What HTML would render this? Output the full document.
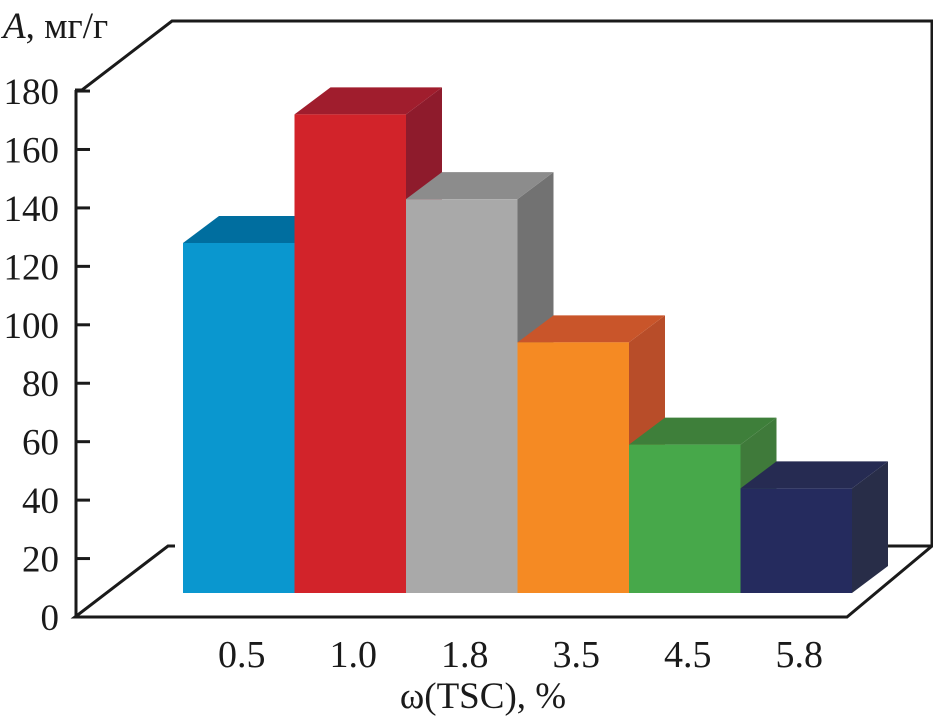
<!DOCTYPE html>
<html><head><meta charset="utf-8"><style>
html,body{margin:0;padding:0;background:#fff;}
svg{display:block;font-family:"Liberation Serif",serif;}
</style></head><body>
<svg id="chart" width="933" height="726" viewBox="0 0 933 726">
<g id="frame" fill="none" stroke="#1a1a1a" stroke-width="3">
<polyline points="75,90 82,90 172,21 933,21"/>
<line x1="932" y1="21" x2="932" y2="546"/>
<polyline points="175,546 168,546 75,617 847,617 932,546 850,546"/>
<line x1="76" y1="90" x2="76" y2="618"/>
</g>
<g id="yticks"></g>
<g id="bars"></g>
<g id="xlabels"></g>
<text x="3" y="38" font-size="37" fill="#1a1a1a"><tspan font-style="italic">A</tspan>, мг/г</text>
<text x="483" y="708" font-size="37" text-anchor="middle" fill="#1a1a1a">ω(TSC), %</text>
</svg>
<script>
const categories = ["0.5","1.0","1.8","3.5","4.5","5.8"];
const values = [128,172,143,94,59,44];
const yTicks = [0,20,40,60,80,100,120,140,160,180];
const frontColors = ["#0a97cf","#d2232a","#a9a9a9","#f58a23","#47a84a","#252b5e"];
const topColors = ["#006e9f","#a01d2d","#8c8c8c","#c9552a","#3e7f3a","#262b52"];
const sideColors = ["#006e9f","#8e1b2c","#727272","#b84d29","#3f7a3a","#282d48"];

const NS = "http://www.w3.org/2000/svg";
const y0 = 617, yScale = 2.922;
function y(v){ return y0 - v*yScale; }
const xStart = 183, band = 111.5, baseY = 593, dx = 36, dy = -27;
function x(i){ return xStart + i*band; }
function mk(tag, attrs, parent){ const e=document.createElementNS(NS,tag); for(const k in attrs) e.setAttribute(k,attrs[k]); parent.appendChild(e); return e; }

const yg = document.getElementById('yticks');
yTicks.forEach(t=>{
  const l = mk('line',{x1:76,x2:90,y1:y(t),y2:y(t),stroke:"#1a1a1a","stroke-width":3},yg);
  
  
  const tx = mk('text',{x:59,y:y(t)+13,"font-size":37,"text-anchor":"end",fill:"#1a1a1a"},yg);
  tx.textContent = t;
  
  
});

const bg = document.getElementById('bars');
values.forEach((v,i)=>{
  const g = mk('g',{},bg);
  
  
  const xl = x(i), xr = x(i)+band, yt = y(v);
  const side = mk('polygon',{points:`${xr},${yt} ${xr+dx},${yt+dy} ${xr+dx},${baseY+dy} ${xr},${baseY}`,fill:sideColors[i]},g);
  
  
  const top = mk('polygon',{points:`${xl},${yt} ${xl+dx},${yt+dy} ${xr+dx},${yt+dy} ${xr},${yt}`,fill:topColors[i]},g);
  
  
  const front = mk('rect',{x:xl,y:yt,width:band,height:baseY-yt,fill:frontColors[i]},g);
  
  
});

const xg = document.getElementById('xlabels');
categories.forEach((c,i)=>{
  const t = mk('text',{x:x(i)+band/2+3,y:667,"font-size":38,"text-anchor":"middle",fill:"#1a1a1a"},xg);
  t.textContent = c;
  
  
});
</script>
</body></html>
